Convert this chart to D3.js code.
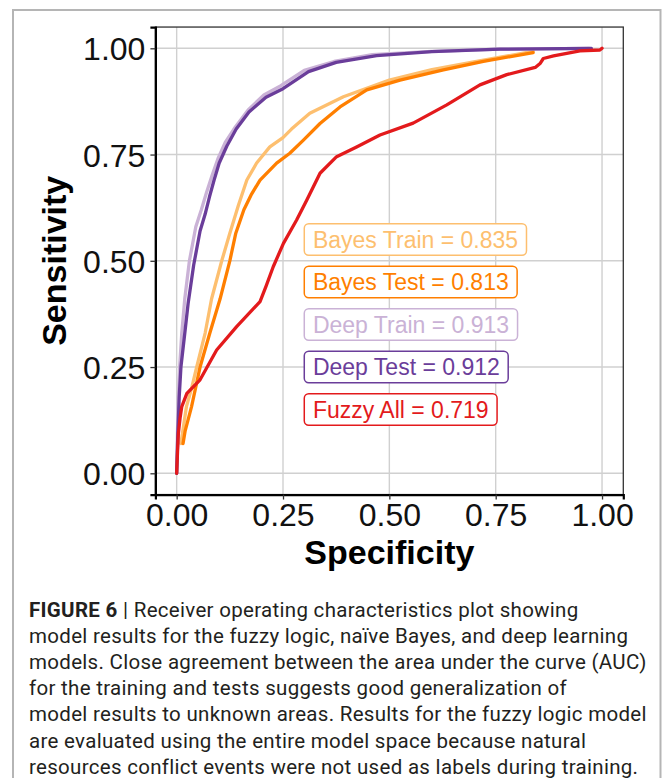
<!DOCTYPE html>
<html>
<head>
<meta charset="utf-8">
<script src="https://cdn.jsdelivr.net/npm/d3@7"></script>
<style>
  body { margin: 0; background: #fff; }
  svg { display: block; }
</style>
</head>
<body>
<div id="chart"></div>
<script>
// ROC curves, [specificity axis, sensitivity]
var bayesTrain = [[0.010,0.07],[0.016,0.11],[0.023,0.157],[0.035,0.20],[0.047,0.25],[0.067,0.33],[0.082,0.41],
  [0.106,0.50],[0.125,0.565],[0.145,0.63],[0.165,0.69],[0.188,0.73],[0.219,0.768],[0.25,0.79],[0.27,0.81],
  [0.313,0.847],[0.392,0.886],[0.50,0.925],[0.60,0.95],[0.705,0.969],[0.838,0.993]];
var bayesTest = [[0.015,0.07],[0.020,0.10],[0.035,0.157],[0.055,0.25],[0.078,0.33],[0.102,0.41],[0.125,0.50],
  [0.139,0.565],[0.158,0.62],[0.175,0.655],[0.196,0.69],[0.235,0.73],[0.266,0.753],[0.298,0.784],[0.337,0.823],
  [0.384,0.862],[0.447,0.902],[0.525,0.925],[0.627,0.949],[0.721,0.969],[0.838,0.99]];
var deepTrain = [[0,0],[0.002,0.10],[0.004,0.18],[0.007,0.25],[0.012,0.33],[0.019,0.41],[0.030,0.50],[0.045,0.58],
  [0.058,0.62],[0.070,0.66],[0.083,0.70],[0.097,0.74],[0.115,0.78],[0.138,0.815],[0.168,0.855],[0.205,0.89],
  [0.245,0.912],[0.30,0.948],[0.37,0.969],[0.46,0.985],[0.60,0.993],[0.76,0.998],[0.97,1.0]];
var deepTest = [[0,0],[0.003,0.10],[0.006,0.18],[0.010,0.25],[0.018,0.32],[0.027,0.40],[0.040,0.49],[0.055,0.57],
  [0.067,0.61],[0.077,0.65],[0.088,0.69],[0.100,0.73],[0.118,0.77],[0.140,0.81],[0.170,0.85],[0.210,0.885],
  [0.250,0.905],[0.31,0.945],[0.375,0.967],[0.47,0.983],[0.60,0.992],[0.76,0.998],[0.975,1.0]];
var fuzzyAll = [[0,0],[0.002,0.05],[0.004,0.094],[0.008,0.13],[0.012,0.157],[0.024,0.188],[0.055,0.22],
  [0.094,0.29],[0.141,0.345],[0.196,0.404],[0.21,0.44],[0.227,0.486],[0.251,0.541],[0.282,0.596],[0.306,0.643],
  [0.337,0.706],[0.376,0.745],[0.423,0.768],[0.478,0.796],[0.556,0.824],[0.635,0.867],[0.713,0.914],
  [0.776,0.938],[0.843,0.955],[0.855,0.965],[0.862,0.976],[0.886,0.982],[0.948,0.994],[0.995,0.996],[1.0,1.0]];

var seriesNames = ["Bayes Train", "Bayes Test", "Deep Train", "Deep Test", "Fuzzy All"];
var aucValues = [0.835, 0.813, 0.913, 0.912, 0.719];
var labelY = [0.55, 0.45, 0.35, 0.25, 0.15];
var ticks = [0, 0.25, 0.5, 0.75, 1];
var captionLines = [
  "Receiver operating characteristics plot showing",
  "model results for the fuzzy logic, naïve Bayes, and deep learning",
  "models. Close agreement between the area under the curve (AUC)",
  "for the training and tests suggests good generalization of",
  "model results to unknown areas. Results for the fuzzy logic model",
  "are evaluated using the entire model space because natural",
  "resources conflict events were not used as labels during training."
];

var colors = ["#fdbf6f", "#ff7f00", "#cab2d6", "#6a3d9a", "#e31a1c"];
var curves = [bayesTrain, bayesTest, deepTrain, deepTest, fuzzyAll];

var W = 663, H = 778;
var svg = d3.select("#chart").append("svg").attr("width", W).attr("height", H);

// figure frame
svg.append("path").attr("d", "M13,790 V10 H660.5 V790")
  .attr("fill", "none").attr("stroke", "#b5b5b5").attr("stroke-width", 2);

var x = d3.scaleLinear().domain([-0.05, 1.05]).range([155.4, 623.3]);
var y = d3.scaleLinear().domain([-0.05, 1.05]).range([494.55, 27.05]);

// grid
svg.append("g").selectAll("line.vx").data(ticks).enter().append("line")
  .attr("x1", d => x(d)).attr("x2", d => x(d)).attr("y1", y(-0.05)).attr("y2", y(1.05))
  .attr("stroke", "#d0d0d0").attr("stroke-width", 1.4);
svg.append("g").selectAll("line.hy").data(ticks).enter().append("line")
  .attr("y1", d => y(d)).attr("y2", d => y(d)).attr("x1", x(-0.05)).attr("x2", x(1.05))
  .attr("stroke", "#d0d0d0").attr("stroke-width", 1.4);

// panel border
svg.append("rect").attr("x", x(-0.05)).attr("y", y(1.05))
  .attr("width", x(1.05) - x(-0.05)).attr("height", y(-0.05) - y(1.05))
  .attr("fill", "none").attr("stroke", "#333").attr("stroke-width", 1.3);

// curves
var line = d3.line().x(d => x(d[0])).y(d => y(d[1]));
svg.append("g").selectAll("path").data(curves).enter().append("path")
  .attr("d", line).attr("fill", "none")
  .attr("stroke", (d, i) => colors[i]).attr("stroke-width", 3.3)
  .attr("stroke-linejoin", "round").attr("stroke-linecap", "round");

// axes
var xAxis = d3.axisBottom(x).tickValues(ticks).tickFormat(d3.format(".2f")).tickSize(5).tickPadding(4);
var yAxis = d3.axisLeft(y).tickValues(ticks).tickFormat(d3.format(".2f")).tickSize(5).tickPadding(5);

var gx = svg.append("g").attr("transform", "translate(0," + y(-0.05) + ")").call(xAxis);
var gy = svg.append("g").attr("transform", "translate(" + x(-0.05) + ",0)").call(yAxis);
[gx, gy].forEach(function(g) {
  g.select(".domain").attr("stroke", "#000").attr("stroke-width", 2.2);
  g.selectAll(".tick line").attr("stroke", "#333").attr("stroke-width", 1.3);
  g.selectAll("text").attr("fill", "#111").style("font-family", "Liberation Sans, Arial, sans-serif")
    .style("font-size", "32px");
});
gx.selectAll("text").attr("dy", "0.71em");
gy.selectAll("text").attr("dy", "0.36em");

svg.append("text").attr("x", x(0.5)).attr("y", 564).attr("text-anchor", "middle")
  .style("font-family", "Liberation Sans, Arial, sans-serif").style("font-weight", "bold")
  .style("font-size", "34px").text("Specificity");
svg.append("text").attr("transform", "translate(66," + y(0.5) + ") rotate(-90)").attr("text-anchor", "middle")
  .style("font-family", "Liberation Sans, Arial, sans-serif").style("font-weight", "bold")
  .style("font-size", "34px").text("Sensitivity");

// AUC labels
var labels = svg.append("g").selectAll("g").data(seriesNames).enter().append("g");
labels.each(function(name, i) {
  var g = d3.select(this);
  var t = g.append("text").attr("x", x(0.3) + 8.6).attr("y", y(labelY[i]) + 8)
    .attr("fill", colors[i]).style("font-family", "Liberation Sans, Arial, sans-serif")
    .style("font-size", "23px").text(name + " = " + aucValues[i].toFixed(3));
  var w = t.node().getComputedTextLength();
  g.insert("rect", "text").attr("x", x(0.3)).attr("y", y(labelY[i]) - 15.8)
    .attr("width", w + 17).attr("height", 31.6).attr("rx", 4.5)
    .attr("fill", "#fff").attr("stroke", colors[i]).attr("stroke-width", 1.5);
});

// caption
var cap = svg.append("text").style("font-family", "Roboto, sans-serif").style("font-size", "20.5px")
  .style("letter-spacing", "0.3px").attr("fill", "#231f20");
captionLines.forEach(function(s, i) {
  var ts = cap.append("tspan").attr("x", 29).attr("y", 617 + i * 26.1);
  if (i === 0) {
    ts.append("tspan").style("font-weight", "bold").text("FIGURE 6");
    ts.append("tspan").text(" | " + s);
  } else {
    ts.text(s);
  }
});
</script>
</body>
</html>
